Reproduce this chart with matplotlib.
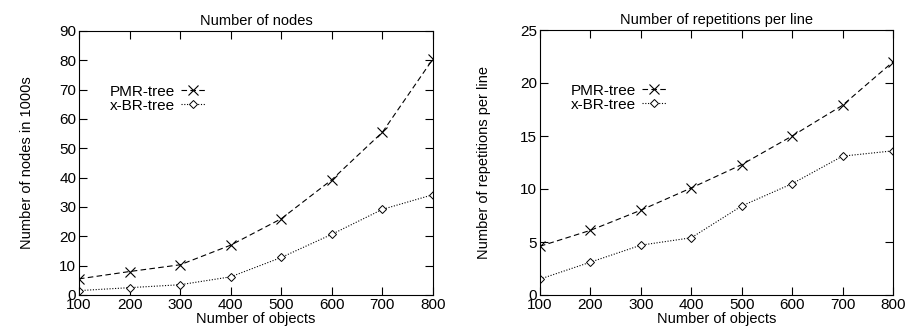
import matplotlib
matplotlib.use("Agg")
import matplotlib.pyplot as plt

objects = [100, 200, 300, 400, 500, 600, 700, 800]
nodes_pmr = [5.5, 8.0, 10.3, 17.0, 26.0, 39.3, 55.5, 80.5]
nodes_xbr = [1.5, 2.5, 3.5, 6.2, 12.8, 20.7, 29.2, 34.2]
rep_pmr = [4.6, 6.1, 8.0, 10.1, 12.3, 15.0, 17.9, 22.0]
rep_xbr = [1.5, 3.1, 4.7, 5.4, 8.4, 10.5, 13.1, 13.6]

plt.rcParams['font.family'] = ['Liberation Sans', 'DejaVu Sans']
plt.rcParams['font.size'] = 10

fig = plt.figure(figsize=(9.06, 3.26), dpi=100)
W, H = 906, 326

def make_ax(x0, x1, ytop, ybot):
    return fig.add_axes([x0 / W, 1 - ybot / H, (x1 - x0) / W, (ybot - ytop) / H])

ax1 = make_ax(79, 433, 31, 295)
ax2 = make_ax(540, 893, 30, 295)

configs = [
    (ax1, nodes_pmr, nodes_xbr, "Number of nodes", "Number of nodes in 1000s", (0, 90), range(0, 91, 10), 18),
    (ax2, rep_pmr, rep_xbr, "Number of repetitions per line", "Number of repetitions per line", (0, 25), range(0, 26, 5), 21),
]

for ax, pmr, xbr, title, ylabel, ylim, yticks, lp in configs:
    ax.plot(objects, pmr, color='black', lw=0.8, ls=(0, (5, 3)), marker='x',
            ms=7, mew=0.8, label='PMR-tree')
    ax.plot(objects, xbr, color='black', lw=0.8, ls=(0, (1, 1.5)), marker='D',
            ms=4.5, mfc='white', mew=0.7, label='x-BR-tree')
    ax.set_xlim(100, 800)
    ax.set_ylim(*ylim)
    ax.set_xticks(objects)
    ax.set_yticks(list(yticks))
    ax.tick_params(direction='in', top=True, right=True, length=6, width=0.8, pad=2, labelsize=11)
    for s in ax.spines.values():
        s.set_linewidth(0.8)
    ax.set_title(title, fontsize=10.5, pad=4)
    ax.set_xlabel("Number of objects", fontsize=10.5, labelpad=0)
    ax.set_ylabel(ylabel, fontsize=10.5, labelpad=lp)
    ax.legend(loc='upper left', bbox_to_anchor=(0.07, 0.82), frameon=False,
              markerfirst=False, handlelength=1.6, handletextpad=0.4,
              labelspacing=0.0, fontsize=11, borderaxespad=0)

fig.savefig("out.png", dpi=100)
